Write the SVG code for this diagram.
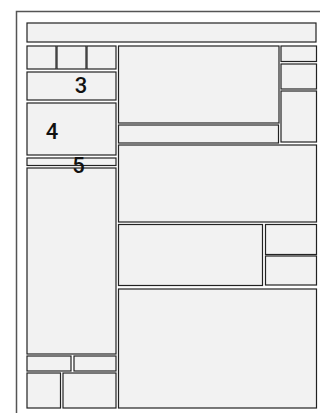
<svg xmlns="http://www.w3.org/2000/svg" width="320" height="413" viewBox="0 0 320 413">
<style>
.b{fill:#f2f2f2;stroke:#222;stroke-width:1.2}
.t{font-family:Roboto,"Liberation Sans",Arial,sans-serif;font-weight:500;font-size:22px;fill:#111;text-anchor:middle}
.f{fill:none;stroke:#555;stroke-width:1.5}
</style>
<rect width="320" height="413" fill="#fff"/>
<g id="frame"><path class="f" d="M16.5,413 V11.5 H320"/></g>
<g id="n-top"><rect class="b" x="27" y="23" width="289" height="19"/></g>
<g id="n-a1"><rect class="b" x="27" y="46" width="29" height="23"/></g>
<g id="n-a2"><rect class="b" x="57" y="46" width="29" height="23"/></g>
<g id="n-a3"><rect class="b" x="87" y="46" width="29" height="23"/></g>
<g id="n-3"><rect class="b" x="27" y="72" width="89" height="28"/><text class="t" x="81" y="93.3">3</text></g>
<g id="n-4"><rect class="b" x="27" y="103" width="89" height="52"/><text class="t" x="52" y="138.7">4</text></g>
<g id="n-5"><rect class="b" x="27" y="158" width="89" height="7.5"/></g>
<g id="n-left"><rect class="b" x="27" y="168" width="89" height="186"/></g>
<g id="n-l1"><rect class="b" x="27" y="356" width="44" height="15"/></g>
<g id="n-l2"><rect class="b" x="74" y="356" width="42" height="15"/></g>
<g id="n-l3"><rect class="b" x="27" y="373" width="33.5" height="35"/></g>
<g id="n-l4"><rect class="b" x="63" y="373" width="53" height="35"/></g>
<g id="n-midA"><rect class="b" x="118.5" y="46" width="160.5" height="77"/></g>
<g id="n-midB"><rect class="b" x="118.5" y="125" width="160" height="18"/></g>
<g id="n-r1"><rect class="b" x="281" y="46" width="35.5" height="15.5"/></g>
<g id="n-r2"><rect class="b" x="281" y="64" width="35.5" height="25"/></g>
<g id="n-r3"><rect class="b" x="281" y="91" width="35.5" height="51"/></g>
<g id="n-C"><rect class="b" x="118.5" y="145" width="198" height="77"/></g>
<g id="n-D"><rect class="b" x="118.5" y="224.5" width="144" height="61"/></g>
<g id="n-E1"><rect class="b" x="265.5" y="224.5" width="51" height="30"/></g>
<g id="n-E2"><rect class="b" x="265.5" y="256" width="51" height="29"/></g>
<g id="n-F"><rect class="b" x="118.5" y="289" width="198" height="119"/></g>
<text class="t" x="78.4" y="172.7">5</text>
</svg>
